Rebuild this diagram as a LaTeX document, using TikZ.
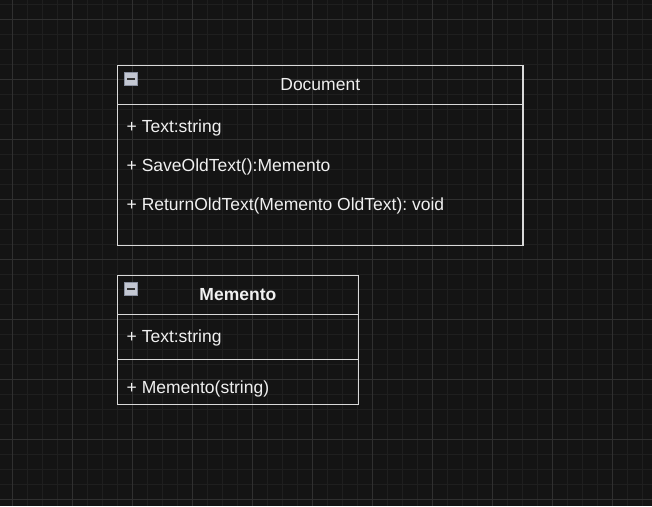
\documentclass[tikz,border=0pt]{standalone}
\usepackage{fontspec}
\setmainfont{Liberation Sans}
\usetikzlibrary{positioning}
\frenchspacing

\definecolor{canvasbg}{HTML}{141414}
\definecolor{gridminor}{HTML}{1F1F1F}
\definecolor{gridmajor}{HTML}{303030}
\definecolor{umlline}{HTML}{D9D9D9}
\definecolor{umltext}{HTML}{F0F0F0}
\definecolor{iconfill}{HTML}{C3C7D2}
\definecolor{iconedge}{HTML}{8A90A0}

\tikzset{
  compartment/.style={draw=umlline, line width=1.4pt, inner sep=0pt, outer sep=0pt,
    anchor=north west, text=umltext, font=\fontsize{17.5}{20}\selectfont},
  member/.style={anchor=base west, inner sep=0pt, text=umltext,
    font=\fontsize{17.5}{20}\selectfont},
  minusicon/.style={draw=iconedge, fill=iconfill, line width=1pt, minimum size=13pt,
    inner sep=0pt,
    path picture={\draw[line width=2.2pt, black!80]
      ([xshift=-4pt]path picture bounding box.center) --
      ([xshift=4pt]path picture bounding box.center);}}
}

\begin{document}
\begin{tikzpicture}[x=1pt, y=-1pt]
  \useasboundingbox (0,0) rectangle (652,506);
  \fill[canvasbg] (0,0) rectangle (652,506);
  % grid
  \foreach \k in {0,...,43} {
    \draw[gridminor, line width=1pt] (12+15*\k-15,0) -- (12+15*\k-15,506);
    \draw[gridminor, line width=1pt] (0,4+15*\k) -- (652,4+15*\k);
  }
  \foreach \k in {0,...,10} {
    \draw[gridmajor, line width=1pt] (12+60*\k,0) -- (12+60*\k,506);
    \draw[gridmajor, line width=1pt] (0,19+60*\k) -- (652,19+60*\k);
  }

  % Document
  \node[compartment, minimum width=405.5pt, minimum height=38.6pt] (docHead) at (117.5,65.7) {Document};
  \node[compartment, minimum width=405.5pt, minimum height=141.4pt] (docBody) at (docHead.south west) {};
  \node[minusicon] (docIcon) at (131,79) {};
  \node[member] (docText) at (126.5,132.7) {+ Text:string};
  \node[member] (docSave) at (126.5,171.2) {+ SaveOldText():Memento};
  \node[member] (docReturn) at (126.5,210) {+ ReturnOldText(Memento OldText): void};

  % Memento
  \node[compartment, minimum width=240.8pt, minimum height=38.6pt, font=\fontsize{17.5}{20}\selectfont\bfseries] (memHead) at (117.5,275.7) {Memento};
  \node[compartment, minimum width=240.8pt, minimum height=45pt] (memAttr) at (memHead.south west) {};
  \node[compartment, minimum width=240.8pt, minimum height=45pt] (memOps) at (memAttr.south west) {};
  \node[minusicon] (memIcon) at (131,289) {};
  \node[member] (memText) at (126.5,342.7) {+ Text:string};
  \node[member] (memCtor) at (126.5,393.3) {+ Memento(string)};
\end{tikzpicture}
\end{document}
